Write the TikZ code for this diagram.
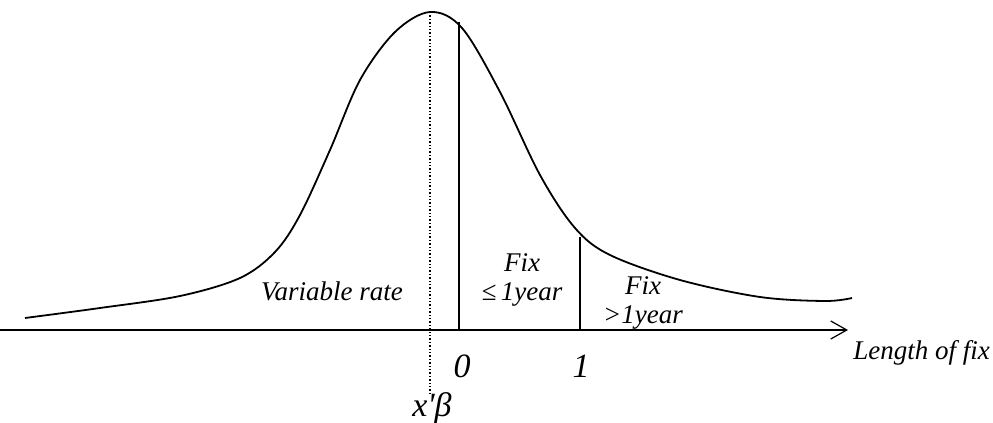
\documentclass[tikz,border=0pt]{standalone}
\usepackage{fontspec}
\setmainfont{Liberation Serif}
\usetikzlibrary{arrows.meta}

\begin{document}
\begin{tikzpicture}[
    x=0.5pt, y=-0.5pt,
    lbl/.style={font=\itshape\fontsize{13.5}{15}\selectfont, align=center, inner sep=0pt},
    tick/.style={font=\itshape\fontsize{17}{18}\selectfont, inner sep=0pt},
    curve/.style={line width=0.9pt, smooth, tension=0.55},
]
\useasboundingbox (0,0) rectangle (993,423);

% -- axis --
\coordinate (axl) at (0,330);
\coordinate (axr) at (848,330);
\draw[line width=0.9pt, -{Straight Barb[length=8pt, width=9pt, line width=0.6pt]}] (axl) -- (axr);
\node[lbl, anchor=west] (len) at (853,353) {Length of fix};

% -- density --
\draw[curve] plot coordinates {(25,318) (100,308) (180,296) (240,278) (275,252) (300,215)
    (330,150) (360,80) (395,32) (430,12) (462,28) (500,92) (540,175) (575,228) (610,255)
    (680,280) (760,297) (825,301) (852,298)};

% -- cut points --
\coordinate (mu) at (430,12);
\coordinate (mub) at (430,396);
\coordinate (c0) at (459,22);
\coordinate (c0b) at (459,330);
\coordinate (c1) at (580,237);
\coordinate (c1b) at (580,330);
\draw[densely dotted, line width=0.7pt] (mu) -- (mub);
\draw[line width=0.9pt] (c0) -- (c0b);
\draw[line width=0.9pt] (c1) -- (c1b);

% -- labels --
\node[lbl] (var) at (332,291) {Variable rate};
\node[lbl] (fixa) at (522,263) {Fix};
\node[lbl] (fixb) at (522,295) {≤\,1year};
\node[lbl] (fixc) at (643,286) {Fix};
\node[lbl] (fixd) at (643,318) {>1year};
\node[tick] (zero) at (462,366) {0};
\node[tick] (one) at (581,366) {1};
\node[tick] (xb) at (432,408) {x\textquotesingle β};

\end{tikzpicture}
\end{document}
